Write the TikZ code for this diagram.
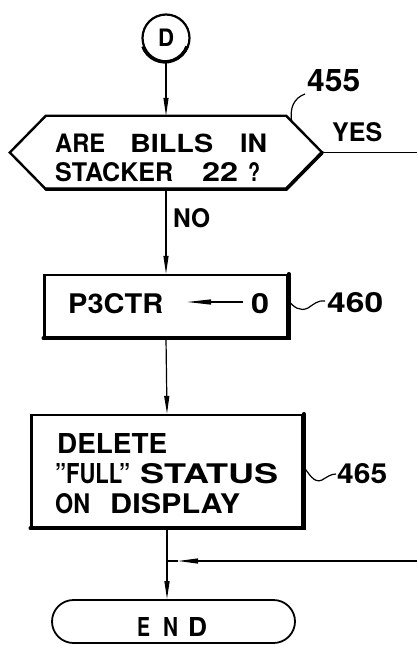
\documentclass[tikz,border=0pt]{standalone}
\usepackage{fontspec}
\setmainfont{TeX Gyre Heros}
\usepackage{graphicx}
\usetikzlibrary{arrows.meta,shapes.misc}
\newcommand{\fw}[3]{\resizebox{#1}{#2}{#3}}
\begin{document}
\begin{tikzpicture}[x=1pt,y=-1pt,
  shapeline/.style={line width=2.4pt, line join=miter},
  heavyedge/.style={line width=3.6pt, line cap=round},
  conn/.style={line width=1.2pt},
  arr/.style={conn,-{Triangle[length=18pt,width=5pt]}},
  txt/.style={inner sep=0pt, anchor=base west, font=\fontsize{26}{30}\selectfont\bfseries},
  lbl/.style={inner sep=0pt, anchor=base west, font=\fontsize{30}{32}\selectfont\bfseries},
  boxnode/.style={draw, shapeline, inner sep=0pt},
]
\useasboundingbox (0,0) rectangle (417,660);
% start connector
\node[draw, circle, line width=2.2pt, minimum size=47pt, inner sep=0pt,
      font=\fontsize{26}{30}\selectfont\bfseries] (D) at (166,38) {\fw{16pt}{17.5pt}{D}};
\draw[line width=3.4pt] (D.200) arc[start angle=200, end angle=340, radius=23.5pt];
% decision 455
\node[minimum width=240pt, minimum height=73pt, inner sep=0pt] (dec) at (166,152.5) {};
\draw[shapeline] (dec.north west) -- (dec.north east) -- ([xshift=36pt]dec.east)
  -- (dec.south east) -- (dec.south west) -- ([xshift=-36pt]dec.west) -- cycle;
\draw[heavyedge] (dec.south west) -- (dec.south east) -- ([xshift=36pt]dec.east);
\node[txt] (q1) at (55,153) {\fw{50pt}{18.5pt}{ARE}\hspace{25pt}\fw{83pt}{18.5pt}{BILLS}\hspace{27pt}\fw{27pt}{18.5pt}{IN}};
\node[txt] (q2) at (55,182) {\fw{118pt}{19pt}{STACKER}\hspace{29pt}\fw{36pt}{19pt}{22}\hspace{10pt}\fw{12pt}{19pt}{?}};
\node[lbl] (l455) at (307,92) {\fw{53pt}{22pt}{455}};
\coordinate (c455) at (292,123);
\draw[conn] (c455) .. controls (289,108) and (294,98) .. (305,94);
\node[txt] (yes) at (332,142) {\fw{50pt}{19pt}{YES}};
\coordinate (yesR) at (417,152.5);
\draw[conn] ([xshift=36pt]dec.east) -- (yesR);
\node[txt] (no) at (173,227) {\fw{37pt}{19pt}{NO}};
% box 460
\node[boxnode, minimum width=243pt, minimum height=62pt] (b460) at (166,306) {};
\draw[heavyedge] (b460.south west) -- (b460.south east) -- (b460.north east);
\node[txt] (p3) at (68,313) {\fw{95pt}{20pt}{P3CTR}};
\node[txt] (zero) at (251,313) {\fw{18pt}{20pt}{0}};
\coordinate (aS) at (243,302);
\coordinate (aE) at (187,302);
\draw[conn,-{Triangle[length=24pt,width=5pt]}] (aS) -- (aE);
\node[lbl] (l460) at (327,312) {\fw{56pt}{20pt}{460}};
\draw[conn] (b460.east) ++(0,-5) .. controls +(5,6) and (300,312) .. (308,308)
  .. controls (314,304) and (318,300) .. (325,301);
% box 465
\node[boxnode, minimum width=271pt, minimum height=112pt] (b465) at (167,471) {};
\draw[heavyedge] (b465.south west) -- (b465.south east) -- (b465.north east);
\node[txt] (d1) at (57,453) {\fw{110pt}{20pt}{DELETE}};
\node[txt] (d2) at (55,483) {\fw{75pt}{20pt}{"FULL"}\hspace{10pt}\fw{138pt}{20pt}{STATUS}};
\node[txt] (d3) at (55,513) {\fw{35pt}{20pt}{ON}\hspace{20pt}\fw{130pt}{20pt}{DISPLAY}};
\node[lbl] (l465) at (337,483) {\fw{50pt}{20pt}{465}};
\draw[conn] (b465.east) ++(0,-4) .. controls +(5,6) and (314,484) .. (322,480)
  .. controls (327,477) and (331,474) .. (336,474);
% end
\node[draw, rounded rectangle, line width=1.8pt, minimum width=243pt,
      minimum height=43pt, inner sep=0pt] (endn) at (173.5,621.5) {};
\node[txt] (endt) at (137,636) {\fw{13pt}{19pt}{E}\hspace{13pt}\fw{15pt}{19pt}{N}\hspace{10pt}\fw{19pt}{19pt}{D}};
% connectors
\coordinate (junc) at (167,561);
\coordinate (retR) at (417,561);
\coordinate (retA) at (178,561);
\draw[arr] (D) -- (dec.north);
\draw[arr] (dec.south) -- (b460.north);
\draw[arr] (b460.south) -- (b465.north);
\draw[conn] (b465.south) -- (junc);
\draw[arr] (junc) -- (junc |- endn.north);
\draw[conn,-{Triangle[length=20pt,width=5pt]}] (retR) -- (retA);
\draw[conn] (retA) -- (junc);
\end{tikzpicture}
\end{document}
